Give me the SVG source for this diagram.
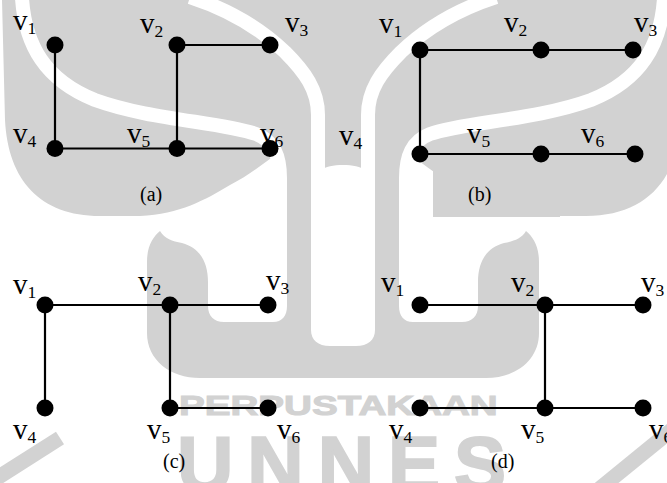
<svg xmlns="http://www.w3.org/2000/svg" xmlns:xlink="http://www.w3.org/1999/xlink" width="667" height="483" viewBox="0 0 667 483">
<style>
.wm{fill:#d2d2d2}
.wb{fill:none;stroke:#fff;stroke-width:14}
.wr{fill:none;stroke:#d2d2d2;stroke-width:15}
.wt{font-family:"Liberation Sans",Arial,sans-serif;font-weight:bold;fill:#d2d2d2;stroke:#d2d2d2}
.e{stroke:#000;stroke-width:2.2;fill:none}
.n{fill:#000}
.lb{font-family:"Liberation Serif","Times New Roman",serif;font-size:29px;fill:#000}
.sub{font-size:17.5px}
.cap{font-family:"Liberation Serif","Times New Roman",serif;font-size:20px;fill:#000}
</style>
<defs>
<g id="half">
<path class="wm" d="M2,0 H343 V217 H282 V150 C268,160 250,175 230,185 C205,200 180,214 140,216 L100,216 C40,216 8,180 5,120 Z"/>
<path class="wb" d="M22,-2 C25,45 45,80 95,100 C150,120 222,122 256,134 C274,141 280,156 280,178 V222"/>
<path class="wb" d="M190,-3 C230,10 262,30 285,52 C305,72 318,90 318,115 V200"/>
<path fill="#fff" d="M311,218 V185 C311,172 324,165 343,165 V218 Z"/>
<path class="wm" d="M147,262 C147,246 153,237 160,231 C165,239 172,241 182,243 C200,248 208,262 208,282 V306 C208,316 214,322 224,322 H273 C282,322 287,316 287,306 V205 H311 V330 C311,340 318,346 330,346 H343 V378 H200 C170,378 147,360 147,333 Z"/>
</g>
</defs>
<rect width="667" height="483" fill="#fff"/>
<g id="watermark">
<use xlink:href="#half" href="#half"/>
<use xlink:href="#half" href="#half" transform="translate(686,0) scale(-1,1)"/>
<path class="wm" d="M433,162 C433,153 438,150 446,150 H560 V217 H433 Z"/>
<path class="wr" d="M-6,480 L60,438"/>
<path class="wr" d="M598,490 L674,428"/>
<text class="wt" transform="translate(179,415) scale(1.43,1)" x="0" y="0" font-size="27" stroke-width="1">PERPUSTAKAAN</text>
<text class="wt" x="177" y="491" font-size="78" stroke-width="2" textLength="329" lengthAdjust="spacing">UNNES</text>
</g>
<g id="connectors">
<path class="e" d="M55,45 V148.5 M177,45 H270 M177,45 V148.5 M55,148.5 H270"/>
<path class="e" d="M420,50 H633 M420,50 V154 M420,154 H635"/>
<path class="e" d="M45,305 H268 M45,305 V408 M170,305 V408 H268"/>
<path class="e" d="M420,305 H643 M545,305 V408 M420,408 H643"/>
</g>
<g id="a-v1"><circle class="n" cx="55" cy="45" r="8.5"/><text class="lb" x="13" y="30">v<tspan class="sub" dy="4">1</tspan></text></g>
<g id="a-v2"><circle class="n" cx="177" cy="45" r="8.5"/><text class="lb" x="140" y="33">v<tspan class="sub" dy="4">2</tspan></text></g>
<g id="a-v3"><circle class="n" cx="270" cy="45" r="8.5"/><text class="lb" x="285" y="32">v<tspan class="sub" dy="4">3</tspan></text></g>
<g id="a-v4"><circle class="n" cx="55" cy="148.5" r="8.5"/><text class="lb" x="13" y="143">v<tspan class="sub" dy="4">4</tspan></text></g>
<g id="a-v5"><circle class="n" cx="177" cy="148.5" r="8.5"/><text class="lb" x="127" y="143">v<tspan class="sub" dy="4">5</tspan></text></g>
<g id="a-v6"><circle class="n" cx="270" cy="148.5" r="8.5"/><text class="lb" x="260" y="143">v<tspan class="sub" dy="4">6</tspan></text></g>
<g id="b-v1"><circle class="n" cx="420" cy="50" r="8.5"/><text class="lb" x="379" y="33">v<tspan class="sub" dy="4">1</tspan></text></g>
<g id="b-v2"><circle class="n" cx="541" cy="50" r="8.5"/><text class="lb" x="504" y="32">v<tspan class="sub" dy="4">2</tspan></text></g>
<g id="b-v3"><circle class="n" cx="633" cy="50" r="8.5"/><text class="lb" x="634" y="32">v<tspan class="sub" dy="4">3</tspan></text></g>
<g id="b-v4"><circle class="n" cx="420" cy="154" r="8.5"/><text class="lb" x="339" y="145">v<tspan class="sub" dy="4">4</tspan></text></g>
<g id="b-v5"><circle class="n" cx="541" cy="154" r="8.5"/><text class="lb" x="467" y="143">v<tspan class="sub" dy="4">5</tspan></text></g>
<g id="b-v6"><circle class="n" cx="635" cy="154" r="8.5"/><text class="lb" x="581" y="143">v<tspan class="sub" dy="4">6</tspan></text></g>
<g id="c-v1"><circle class="n" cx="45" cy="305" r="8.5"/><text class="lb" x="13" y="294">v<tspan class="sub" dy="4">1</tspan></text></g>
<g id="c-v2"><circle class="n" cx="170" cy="305" r="8.5"/><text class="lb" x="138" y="291">v<tspan class="sub" dy="4">2</tspan></text></g>
<g id="c-v3"><circle class="n" cx="268" cy="305" r="8.5"/><text class="lb" x="266" y="290">v<tspan class="sub" dy="4">3</tspan></text></g>
<g id="c-v4"><circle class="n" cx="45" cy="408" r="8.5"/><text class="lb" x="13" y="439">v<tspan class="sub" dy="4">4</tspan></text></g>
<g id="c-v5"><circle class="n" cx="170" cy="408" r="8.5"/><text class="lb" x="147" y="439">v<tspan class="sub" dy="4">5</tspan></text></g>
<g id="c-v6"><circle class="n" cx="268" cy="408" r="8.5"/><text class="lb" x="277" y="439">v<tspan class="sub" dy="4">6</tspan></text></g>
<g id="d-v1"><circle class="n" cx="420" cy="305" r="8.5"/><text class="lb" x="381" y="292">v<tspan class="sub" dy="4">1</tspan></text></g>
<g id="d-v2"><circle class="n" cx="545" cy="305" r="8.5"/><text class="lb" x="511" y="292">v<tspan class="sub" dy="4">2</tspan></text></g>
<g id="d-v3"><circle class="n" cx="643" cy="305" r="8.5"/><text class="lb" x="641" y="292">v<tspan class="sub" dy="4">3</tspan></text></g>
<g id="d-v4"><circle class="n" cx="420" cy="408" r="8.5"/><text class="lb" x="389" y="439">v<tspan class="sub" dy="4">4</tspan></text></g>
<g id="d-v5"><circle class="n" cx="545" cy="408" r="8.5"/><text class="lb" x="521" y="439">v<tspan class="sub" dy="4">5</tspan></text></g>
<g id="d-v6"><circle class="n" cx="643" cy="408" r="8.5"/><text class="lb" x="649" y="439">v<tspan class="sub" dy="4">6</tspan></text></g>
<g id="captions">
<text class="cap" x="140" y="201">(a)</text>
<text class="cap" x="468" y="201">(b)</text>
<text class="cap" x="163" y="468">(c)</text>
<text class="cap" x="491" y="468">(d)</text>
</g>
</svg>
